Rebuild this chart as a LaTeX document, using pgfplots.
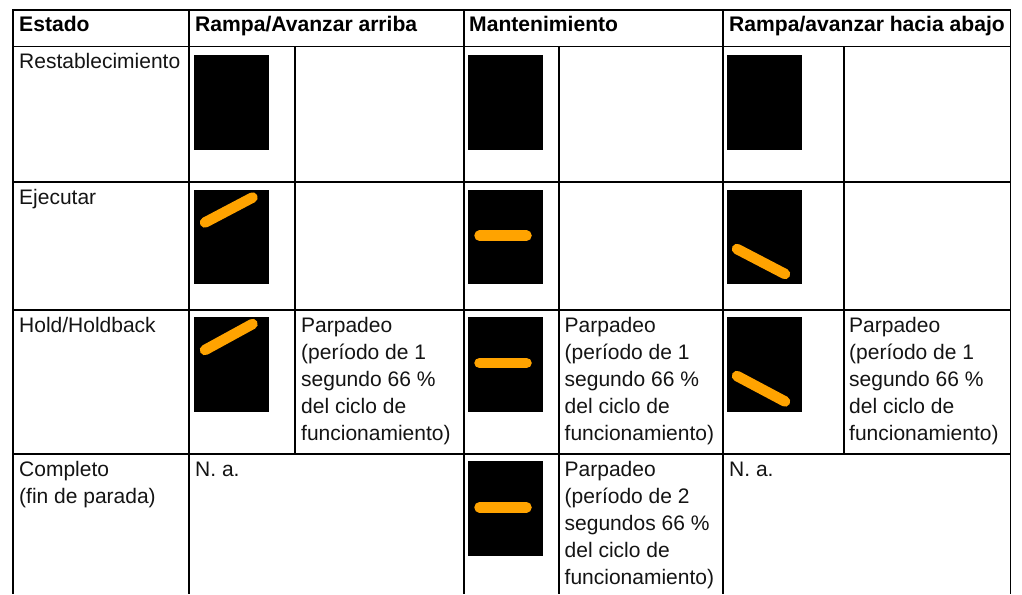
\documentclass[border=0pt]{standalone}
\usepackage{pgfplots}
\pgfplotsset{compat=1.18}
\usepackage{fontspec}
\setmainfont{Liberation Sans}
\definecolor{amb}{RGB}{255,163,0}
\definecolor{tx}{RGB}{20,20,20}
\newcommand{\blk}[4]{\addplot[draw=none,fill=black] coordinates {(#1,#3) (#2,#3) (#2,#4) (#1,#4)} --cycle;}
\newcommand{\ora}[5][10.5pt]{\addplot[amb,line width=#1,line cap=round] coordinates {(#2,#3) (#4,#5)};}
\newcommand{\gl}[4]{\addplot[black,line width=1.6pt] coordinates {(#1,#2) (#3,#4)};}
\newcommand{\txt}[3]{\node[anchor=base west,inner sep=0pt,text=tx,font=\fontsize{21}{27}\selectfont] at (axis cs:#1,#2) {#3};}
\newcommand{\btxt}[3]{\node[anchor=base west,inner sep=0pt,text=black,font=\fontsize{21.1}{27}\selectfont\bfseries] at (axis cs:#1,#2) {#3};}
\begin{document}
\begin{tikzpicture}
\path[use as bounding box] (0,0) rectangle (1022pt,594pt);
\begin{axis}[anchor=south west,at={(0,0)},scale only axis,width=1022pt,height=594pt,xmin=0,xmax=1022,ymin=0,ymax=594,y dir=reverse,hide axis,clip=true]
\addplot[draw=none,fill=white] coordinates {(0,0) (1022,0) (1022,594) (0,594)} --cycle;
% horizontal rules
\gl{12}{10}{1011.3}{10}
\gl{12}{46.7}{1011.3}{46.7}
\gl{12}{182}{1011.3}{182}
\gl{12}{310}{1011.3}{310}
\gl{12}{454}{1011.3}{454}
% vertical rules
\gl{13}{9.2}{13}{594}
\gl{188.7}{9.2}{188.7}{594}
\gl{464}{9.2}{464}{594}
\gl{723}{9.2}{723}{594}
\gl{1010.5}{9.2}{1010.5}{594}
\gl{295}{46.7}{295}{454}
\gl{559}{46.7}{559}{594}
\gl{844}{46.7}{844}{454}
% black panels
\blk{194}{269}{55}{150}
\blk{194}{269}{190}{284}
\blk{194}{269}{317}{412}
\blk{468}{543}{55}{150}
\blk{468}{543}{190}{284}
\blk{468}{543}{317}{412}
\blk{468}{543}{461}{556}
\blk{727}{802}{55}{150}
\blk{727}{802}{190}{284}
\blk{727}{802}{317}{412}
% orange strokes
\ora{205}{222.5}{252.5}{197.5}
\ora{205}{350}{252.5}{324}
\ora{479.5}{235.7}{526.5}{235.7}
\ora{479.5}{363}{526.5}{363}
\ora{479.5}{507.3}{526.5}{507.3}
\ora{737}{249}{785}{274}
\ora{737}{376}{785}{401.5}
% text
\btxt{19}{32}{Estado}
\btxt{195}{32}{Rampa/Avanzar arriba}
\btxt{469}{32}{Mantenimiento}
\btxt{729}{32}{Rampa/avanzar hacia abajo}
\txt{19}{69}{Restablecimiento}
\txt{19}{204}{Ejecutar}
\txt{19}{332}{Hold/Holdback}
\txt{19}{476}{Completo}
\txt{19}{503}{(fin de parada)}
\txt{195}{476}{N. a.}
\txt{729}{476}{N. a.}
\txt{301}{332}{Parpadeo}
\txt{301}{359}{(período de 1}
\txt{301}{386}{segundo 66 \%}
\txt{301}{413}{del ciclo de}
\txt{301}{440}{funcionamiento)}
\txt{564.5}{332}{Parpadeo}
\txt{564.5}{359}{(período de 1}
\txt{564.5}{386}{segundo 66 \%}
\txt{564.5}{413}{del ciclo de}
\txt{564.5}{440}{funcionamiento)}
\txt{849}{332}{Parpadeo}
\txt{849}{359}{(período de 1}
\txt{849}{386}{segundo 66 \%}
\txt{849}{413}{del ciclo de}
\txt{849}{440}{funcionamiento)}
\txt{564.5}{476}{Parpadeo}
\txt{564.5}{503}{(período de 2}
\txt{564.5}{530}{segundos 66 \%}
\txt{564.5}{557}{del ciclo de}
\txt{564.5}{584}{funcionamiento)}
\end{axis}
\end{tikzpicture}
\end{document}
